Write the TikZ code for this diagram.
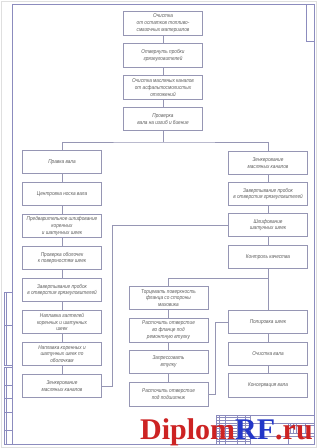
\documentclass[tikz,border=0pt]{standalone}
\usepackage{fontspec}
\newfontfamily\gostfont{Liberation Sans}[FakeStretch=0.84]
\newfontfamily\wmfont{Liberation Serif}
\definecolor{framec}{RGB}{140,140,190}
\definecolor{boxc}{RGB}{150,150,180}
\definecolor{txtc}{RGB}{95,95,95}
\definecolor{wmred}{RGB}{205,35,35}
\definecolor{wmblue}{RGB}{35,55,200}

\begin{document}
\begin{tikzpicture}[x=1pt, y=-1pt,
  op/.style={draw=boxc, line width=0.6pt, fill=white,
    minimum width=79pt, minimum height=23.5pt, align=center,
    inner sep=0.5pt, text=txtc,
    font=\gostfont\itshape\fontsize{5.6}{6.9}\selectfont},
  link/.style={draw=boxc, line width=0.6pt},
  sheet/.style={draw=framec, line width=0.5pt}]
  \useasboundingbox[fill=white] (0,0) rectangle (317,448);
  % sheet frame
  \draw[gray!25, line width=0.5pt] (1.5,1) rectangle (316,447);
  \draw[sheet, line width=0.8pt] (12,4) rectangle (314,444);
  \draw[sheet] (306.5,4) rectangle (314,41);
  % side strip
  \draw[sheet] (4,292) rectangle (12,365);
  \draw[sheet] (4,325) -- (12,325) (6.7,292) -- (6.7,365);
  \draw[sheet] (4,367) rectangle (12,444);
  \draw[sheet] (6.7,367) -- (6.7,444);
  \foreach \yy in {385.3,398.7,412,430.7}
    \draw[sheet] (4,\yy) -- (12,\yy);
  % title block
  \draw[sheet] (216,415) rectangle (314,444);
  \foreach \k in {1,...,10}
    \draw[sheet] (216,{415+2.667*\k}) -- (250.7,{415+2.667*\k});
  \foreach \xx in {219.7,225,237.3,245.3,250.7}
    \draw[sheet] (\xx,415) -- (\xx,444);
  \draw[sheet] (250.7,423) -- (314,423) (250.7,436.3) -- (314,436.3);
  \draw[sheet] (288,423) -- (288,444);
  \draw[sheet] (288,425.7) -- (314,425.7) (288,433.7) -- (314,433.7);
  \foreach \xx in {290.7,293.3,296,305}
    \draw[sheet] (\xx,423) -- (\xx,433.7);

  % main column
  \node[op] (clean) at (163,23.5) {Очистка\\от остатков топливо-\\смазочных материалов};
  \node[op] (plugs) at (163,55.5) {Отвернуть пробки\\грязеуловителей};
  \node[op] (ducts) at (163,87.5) {Очистка масляных каналов\\от асфальтосмолистых\\отложений};
  \node[op] (check) at (163,119) {Проверка\\вала на изгиб и биение};
  % left column
  \node[op] (straight) at (62,162) {Правка вала};
  \node[op] (center) at (62,194) {Центровка носка вала};
  \node[op] (pregrind) at (62,226) {Предварительное шлифование\\коренных\\и шатунных шеек};
  \node[op] (shells) at (62,258) {Проверка оболочек\\к поверхностям шеек};
  \node[op] (plugsL) at (62,290) {Завертывание пробок\\в отверстия грязеуловителей};
  \node[op] (fillet) at (62,322) {Наплавка галтелей\\коренных и шатунных\\шеек};
  \node[op] (surface) at (62,354) {Наплавка коренных и\\шатунных шеек по\\оболочкам};
  \node[op] (sinkL) at (62,386) {Зенкерование\\масляных каналов};
  % right column
  \node[op] (sinkR) at (268,163) {Зенкерование\\масляных каналов};
  \node[op] (plugsR) at (268,194) {Завертывание пробок\\в отверстия грязеуловителей};
  \node[op] (grind) at (268,225) {Шлифование\\шатунных шеек};
  \node[op] (control) at (268,257) {Контроль качества};
  \node[op] (polish) at (268,322) {Полировка шеек};
  \node[op] (wash) at (268,354) {Очистка вала};
  \node[op] (store) at (268,385.5) {Консервация вала};
  % flange column
  \node[op] (face) at (168.5,298) {Торцевать поверхность\\фланца со стороны\\маховика};
  \node[op] (boreA) at (168.5,330.5) {Расточить отверстие\\во фланце под\\ремонтную втулку};
  \node[op] (press) at (168.5,362) {Запрессовать\\втулку};
  \node[op] (boreB) at (168.5,394.5) {Расточить отверстие\\под подшипник};

  % links
  \draw[link] (clean) -- (plugs);
  \draw[link] (plugs) -- (ducts);
  \draw[link] (ducts) -- (check);
  \coordinate (split) at (163,142);
  \draw[link] (check) -- (split);
  \draw[link] (straight) |- (split) -| (sinkR);
  \foreach \a/\b in {straight/center, center/pregrind, pregrind/shells,
      shells/plugsL, plugsL/fillet, fillet/surface, surface/sinkL,
      sinkR/plugsR, plugsR/grind, grind/control, control/polish,
      polish/wash, wash/store, face/boreA, boreA/press, press/boreB}
    \draw[link] (\a) -- (\b);
  \draw[link] (sinkL.east) -- ++(10,0) |- (grind.west);
  \coordinate (fork) at (268,278);
  \draw[link] (fork) -| (face);
  \draw[link] (boreB.east) -- ++(7,0) |- (polish.west);

  % watermark
  \node[anchor=base west, inner sep=0pt,
    font=\wmfont\bfseries\fontsize{30}{30}\selectfont] (wm) at (140,439)
    {\textcolor{wmred}{Diplom}\textcolor{wmblue}{RF}\textcolor{wmred}{.ru}};
\end{tikzpicture}
\end{document}
